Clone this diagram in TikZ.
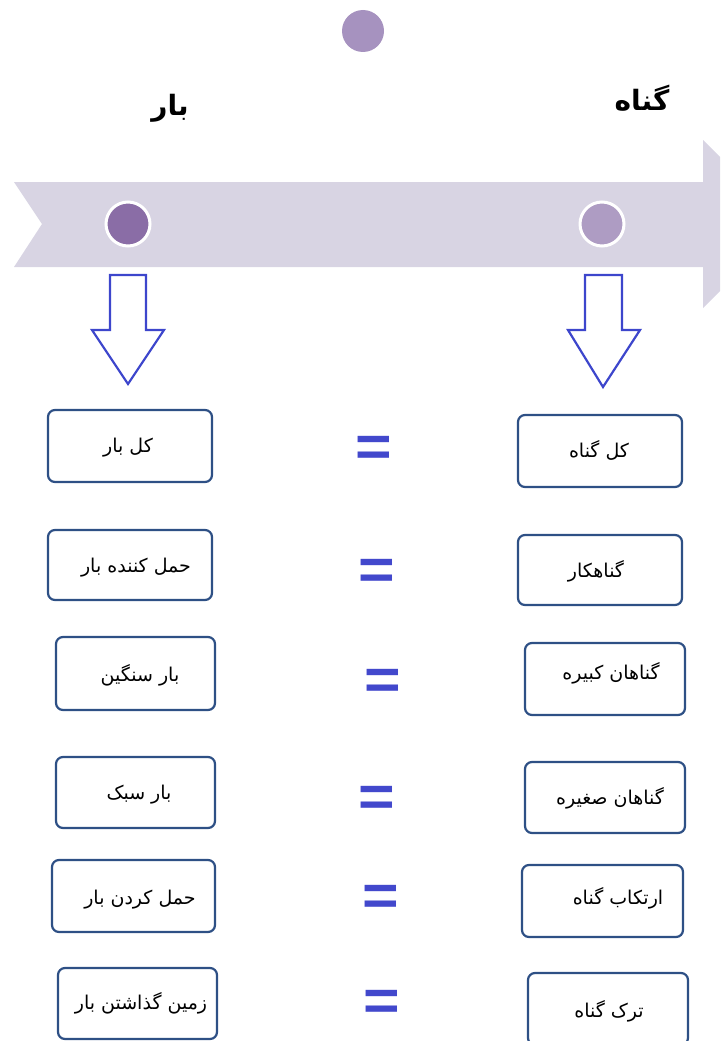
\documentclass[tikz,border=0pt]{standalone}
\usepackage{fontspec}
\TeXXeTstate=1
\newfontfamily\fa[Script=Arabic]{DejaVu Sans}
\newfontfamily\eqfont{Liberation Sans}
\definecolor{bandc}{HTML}{D8D4E3}
\definecolor{topc}{HTML}{A692BF}
\definecolor{leftc}{HTML}{8A6DA6}
\definecolor{rightc}{HTML}{AE9CC3}
\definecolor{arrc}{HTML}{3D46CC}
\definecolor{boxc}{HTML}{2E5085}
\definecolor{eqc}{HTML}{4248CC}
\tikzset{
  pbox/.style={draw=boxc, line width=2.2pt, rounded corners=7pt, fill=white, inner sep=0pt},
  ptext/.style={font=\fa\fontsize{19}{20}\selectfont, inner sep=0pt},
  head/.style={font=\fa\bfseries\fontsize{28}{30}\selectfont, inner sep=0pt},
  eqsign/.style={text=eqc, inner sep=0pt, font=\eqfont\bfseries\fontsize{58}{58}\selectfont, xscale=1.08, yscale=1.0},
  blockarrow/.style={draw=arrc, line width=2.2pt, fill=white, line join=miter},
  dot/.style={circle, draw=white, line width=3pt, minimum size=44pt, inner sep=0pt}
}
\begin{document}
\begin{tikzpicture}[x=1pt,y=-1pt]
\useasboundingbox (0,0) rectangle (720,1041);
\clip (0,0) rectangle (720,1041);
% band arrow
\fill[bandc] (14,182) -- (703,182) -- (703,140) -- (787,224) -- (703,308) -- (703,267) -- (14,267) -- (42,224) -- cycle;
% circles
\node[circle, fill=topc, minimum size=42pt, inner sep=0pt] (ctop) at (363,31) {};
\node[dot, fill=leftc] (cleft) at (128,224) {};
\node[dot, fill=rightc] (cright) at (602,224) {};
% headers
\node[head] (hbar) at (170,108) {\beginR بار\endR};
\node[head] (hgonah) at (642,98) {\beginR گناه\endR};
% block arrows
\draw[blockarrow] (110,275) -- (146,275) -- (146,330) -- (164,330) -- (128,384) -- (92,330) -- (110,330) -- cycle;
\draw[blockarrow] (585,275) -- (622,275) -- (622,330) -- (640,330) -- (603,387) -- (568,330) -- (585,330) -- cycle;
% left boxes
\node[pbox, minimum width=164pt, minimum height=72pt] (L1) at (130,446) {};
\node[pbox, minimum width=164pt, minimum height=70pt] (L2) at (130,565) {};
\node[pbox, minimum width=159pt, minimum height=73pt] (L3) at (135.5,673.5) {};
\node[pbox, minimum width=159pt, minimum height=71pt] (L4) at (135.5,792.5) {};
\node[pbox, minimum width=163pt, minimum height=72pt] (L5) at (133.5,896) {};
\node[pbox, minimum width=159pt, minimum height=71pt] (L6) at (137.5,1003.5) {};
\node[ptext] (tL1) at (128,448) {\beginR کل بار\endR};
\node[ptext] (tL2) at (136,568) {\beginR حمل کننده بار\endR};
\node[ptext] (tL3) at (140,675) {\beginR بار سنگین\endR};
\node[ptext] (tL4) at (139,795) {\beginR بار سبک\endR};
\node[ptext] (tL5) at (140,900) {\beginR حمل کردن بار\endR};
\node[ptext] (tL6) at (141,1003) {\beginR زمین گذاشتن بار\endR};
% right boxes
\node[pbox, minimum width=164pt, minimum height=72pt] (R1) at (600,451) {};
\node[pbox, minimum width=164pt, minimum height=70pt] (R2) at (600,570) {};
\node[pbox, minimum width=160pt, minimum height=72pt] (R3) at (605,679) {};
\node[pbox, minimum width=160pt, minimum height=71pt] (R4) at (605,797.5) {};
\node[pbox, minimum width=161pt, minimum height=72pt] (R5) at (602.5,901) {};
\node[pbox, minimum width=160pt, minimum height=72pt] (R6) at (608,1009) {};
\node[ptext] (tR1) at (599,450) {\beginR کل گناه\endR};
\node[ptext] (tR2) at (596,571) {\beginR گناهکار\endR};
\node[ptext] (tR3) at (611,673) {\beginR گناهان کبیره\endR};
\node[ptext] (tR4) at (610,798) {\beginR گناهان صغیره\endR};
\node[ptext] (tR5) at (618,898) {\beginR ارتکاب گناه\endR};
\node[ptext] (tR6) at (609,1011) {\beginR ترک گناه\endR};
% equals signs
\node[eqsign] (e1) at (374,451) {=};
\node[eqsign] (e2) at (377,574) {=};
\node[eqsign] (e3) at (383,684) {=};
\node[eqsign] (e4) at (377,801) {=};
\node[eqsign] (e5) at (381,900) {=};
\node[eqsign] (e6) at (382,1005) {=};
\end{tikzpicture}
\end{document}
